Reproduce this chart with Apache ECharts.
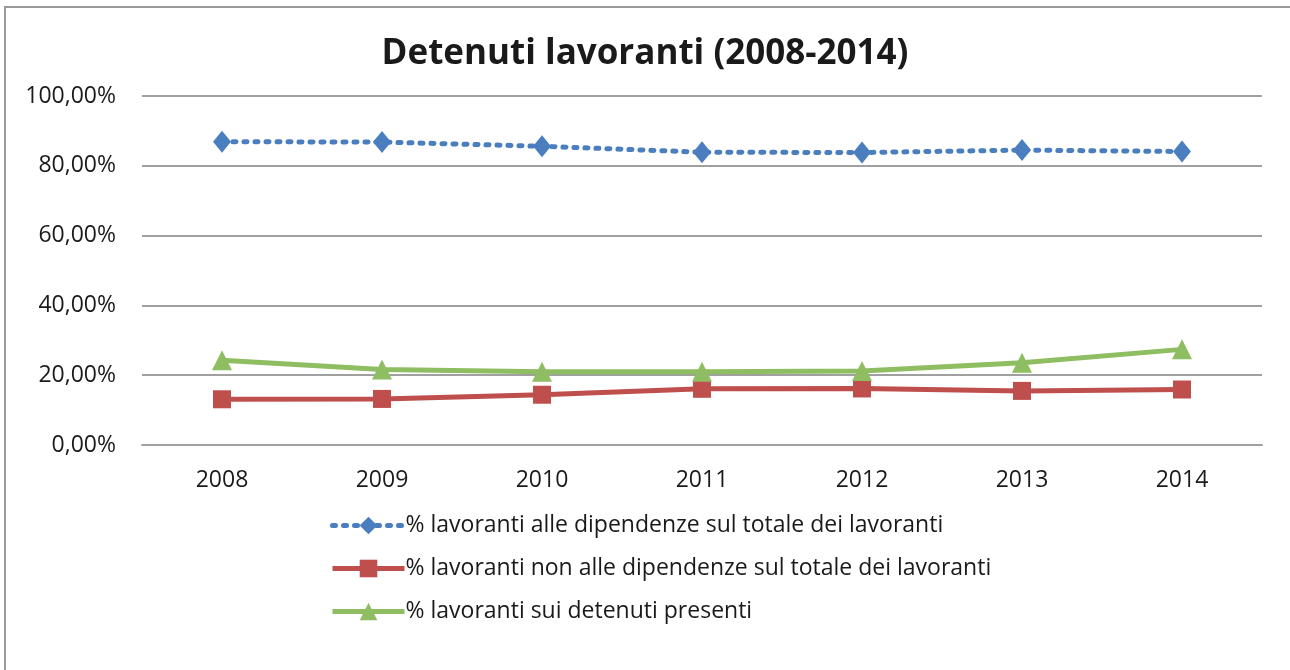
<!DOCTYPE html>
<html>
<head>
<meta charset="utf-8">
<script src="https://cdn.jsdelivr.net/npm/echarts@6/dist/echarts.min.js"></script>
<style>
  html, body { margin: 0; padding: 0; background: #fff; }
  #chart { width: 1290px; height: 670px; }
</style>
</head>
<body>
<div id="chart"></div>
<script>
// data (percent values)
var years = ['2008', '2009', '2010', '2011', '2012', '2013', '2014'];
var allaDipendenze = [86.9, 86.8, 85.6, 83.9, 83.8, 84.5, 84.1];
var nonAlleDipendenze = [13.1, 13.2, 14.4, 16.1, 16.2, 15.5, 15.9];
var suiPresenti = [24.3, 21.6, 21.0, 21.0, 21.2, 23.6, 27.4];
var seriesNames = [
  '% lavoranti alle dipendenze sul totale dei lavoranti',
  '% lavoranti non alle dipendenze sul totale dei lavoranti',
  '% lavoranti sui detenuti presenti'
];

var dom = document.getElementById('chart');
var myChart = echarts.init(dom);
var font = '"Open Sans", sans-serif';

var option = {
  animation: false,
  textStyle: { fontFamily: font },
  title: {
    text: 'Detenuti lavoranti (2008-2014)',
    left: 'center',
    top: 32,
    textStyle: { fontSize: 35, fontWeight: 'bold', color: '#1a1a1a', fontFamily: font }
  },
  graphic: [
    {
      type: 'polyline',
      shape: { points: [[5, 700], [5, 7], [1300, 7]] },
      style: { stroke: '#9a9a9a', lineWidth: 2, fill: null }
    }
  ],
  grid: { left: 142, right: 28, top: 96, bottom: 225 },
  legend: {
    orient: 'vertical',
    left: 325,
    top: 509,
    itemWidth: 72,
    itemHeight: 22,
    itemGap: 20,
    data: seriesNames,
    lineStyle: { width: 5 },
    textStyle: { fontSize: 23, color: '#1a1a1a', fontFamily: font, padding: [0, 0, 0, -4] }
  },
  xAxis: {
    type: 'category',
    data: years,
    axisTick: { show: false },
    axisLine: { lineStyle: { color: '#a0a0a0', width: 2 } },
    axisLabel: { fontSize: 23, color: '#1a1a1a', margin: 24, fontFamily: font }
  },
  yAxis: {
    type: 'value',
    min: 0,
    max: 100,
    interval: 20,
    axisLine: { show: false },
    axisTick: { show: false },
    splitLine: { lineStyle: { color: '#a0a0a0', width: 2 } },
    axisLabel: {
      fontSize: 23, color: '#1a1a1a', margin: 26, fontFamily: font,
      formatter: function (v) { return v.toFixed(2).replace('.', ',') + '%'; }
    }
  },
  series: [
    {
      name: seriesNames[0],
      type: 'line',
      data: allaDipendenze,
      symbol: 'diamond',
      symbolSize: [18, 22],
      lineStyle: { color: '#4a7ebf', width: 5, type: [3, 8], cap: 'round' },
      itemStyle: { color: '#4a7ebf' }
    },
    {
      name: seriesNames[1],
      type: 'line',
      data: nonAlleDipendenze,
      symbol: 'rect',
      symbolSize: 18,
      lineStyle: { color: '#be4f4d', width: 5 },
      itemStyle: { color: '#be4f4d' }
    },
    {
      name: seriesNames[2],
      type: 'line',
      data: suiPresenti,
      symbol: 'triangle',
      symbolSize: 20,
      lineStyle: { color: '#8fbd62', width: 5 },
      itemStyle: { color: '#8fbd62' }
    }
  ]
};

if (option && typeof option === 'object') {
  myChart.setOption(option);
}
</script>
</body>
</html>
